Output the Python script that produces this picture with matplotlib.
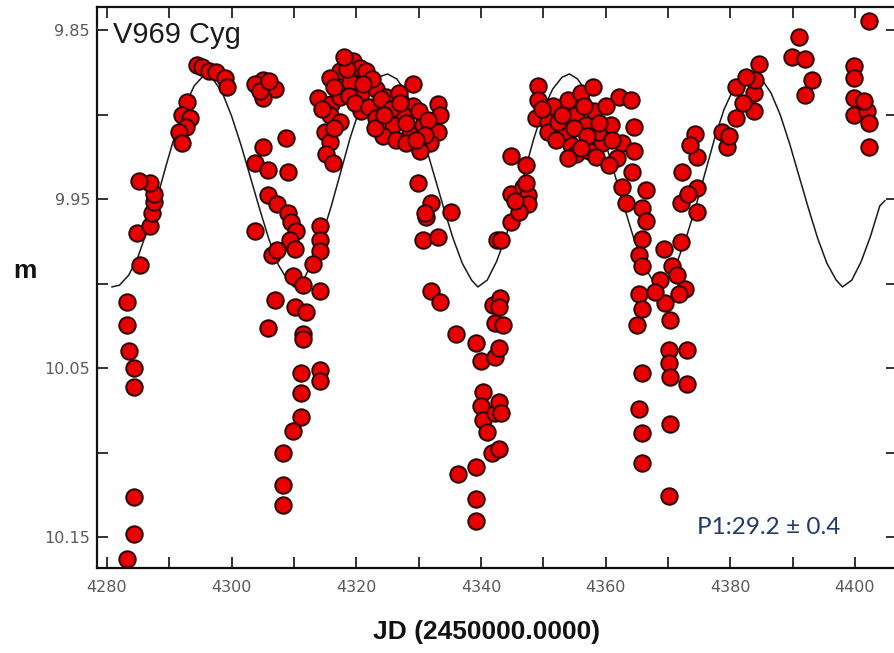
import matplotlib
matplotlib.use("Agg")
import matplotlib.pyplot as plt
from matplotlib.ticker import MultipleLocator

# ---- observations (JD - 2450000, magnitude) ----
obs_jd = [
    4283.2, 4283.2, 4283.5, 4284.3, 4284.3, 4284.3, 4284.3, 4283.2,
    4285.3, 4284.8, 4286.9, 4287.2, 4287.5, 4287.5, 4286.9, 4285.1,
    4292.8, 4292.0, 4293.4, 4292.6, 4291.5, 4292.0,
    4294.4, 4295.2, 4296.3, 4297.5, 4299.0, 4299.2,
    4305.1, 4306.9, 4305.1, 4303.8, 4304.5, 4306.0,
    4308.8, 4305.1, 4303.7, 4305.9, 4309.1,
    4305.9, 4307.2, 4309.1, 4309.6, 4310.4, 4303.7, 4309.4, 4310.2, 4306.4, 4307.2,
    4314.2, 4314.2, 4314.2, 4313.1,
    4309.9, 4311.5, 4314.2, 4306.9, 4310.2, 4312.0, 4305.9, 4311.5, 4311.5,
    4311.2, 4314.2, 4314.2, 4311.2, 4311.2, 4309.9, 4308.3, 4308.3, 4308.3,
    4317.4, 4319.5, 4320.6, 4319.0, 4315.8, 4313.9, 4316.0, 4317.4, 4315.8, 4317.4,
    4315.0, 4315.8, 4315.2, 4316.3, 4320.8, 4320.8,
    4318.5, 4316.5, 4318.8, 4314.5, 4316.5, 4319.8,
    4321.6, 4323.2, 4322.1, 4324.8, 4326.9, 4329.1, 4329.1, 4327.5, 4325.9, 4324.3,
    4326.4, 4328.6, 4330.7, 4333.1, 4333.4, 4333.1, 4331.8, 4330.2, 4328.0, 4323.2,
    4322.5, 4324.0, 4325.5, 4327.0, 4328.0, 4330.0, 4331.5, 4323.0, 4321.0, 4318.0,
    4331.0, 4329.5, 4324.5,
    4329.9, 4332.0, 4331.2, 4335.2, 4330.7, 4333.1, 4332.0, 4333.4, 4331.0,
    4336.0, 4339.2, 4340.0, 4342.2, 4341.9, 4342.2, 4342.5, 4343.0, 4342.9, 4343.5,
    4340.3, 4340.0, 4340.3, 4342.2, 4341.7, 4339.2, 4336.3, 4339.2, 4339.2, 4342.9,
    4342.9, 4343.2, 4342.9, 4341.0,
    4343.2, 4344.8, 4344.8, 4346.7, 4347.5, 4347.5, 4347.2, 4344.8, 4347.2, 4346.1, 4345.5,
    4349.1, 4349.1, 4348.8, 4350.7, 4350.8, 4353.9, 4355.2, 4356.0, 4357.9, 4354.4,
    4355.2, 4358.2, 4356.9, 4359.5, 4362.2, 4357.4, 4360.9, 4362.7, 4353.1, 4352.3,
    4358.8, 4361.9, 4362.7, 4363.3,
    4351.5, 4353.0, 4355.0, 4356.5, 4357.0, 4359.0, 4360.0, 4361.0, 4358.5, 4352.0,
    4354.0, 4356.0, 4360.5, 4349.8,
    4364.0, 4364.5, 4364.5, 4364.2, 4366.4, 4365.8, 4366.4, 4365.8, 4365.4, 4365.8,
    4365.4, 4365.8, 4365.1, 4365.8, 4365.3, 4365.8, 4365.8,
    4369.4, 4372.1, 4370.7, 4368.8, 4372.8, 4371.7, 4369.6, 4370.4, 4370.1, 4373.1,
    4370.1, 4370.4, 4373.1, 4370.4, 4370.1, 4371.5, 4368.0,
    4374.4, 4374.6, 4372.2, 4374.6, 4372.1, 4374.6, 4373.2, 4373.5,
    4379.5, 4378.7, 4380.9, 4380.9, 4383.8, 4383.8, 4384.6, 4384.0, 4382.0, 4382.5, 4379.8,
    4391.0, 4389.9, 4392.0, 4393.1, 4392.0,
    4402.2, 4399.8, 4399.8, 4399.8, 4399.8, 4401.9, 4402.2, 4402.2, 4401.5,
]
obs_mag = [
    10.011, 10.0245, 10.040, 10.050, 10.061, 10.126, 10.148, 10.163,
    9.989, 9.970, 9.966, 9.9585, 9.952, 9.947, 9.9404, 9.9394,
    9.8926, 9.900, 9.902, 9.9075, 9.9106, 9.917,
    9.871, 9.872, 9.8745, 9.875, 9.8787, 9.884,
    9.8798, 9.8851, 9.8904, 9.8819, 9.886, 9.880,
    9.9138, 9.9192, 9.9287, 9.933, 9.934,
    9.9479, 9.9532, 9.9585, 9.9638, 9.9692, 9.9692, 9.9745, 9.9798, 9.983, 9.980,
    9.966, 9.9745, 9.981, 9.9883,
    9.9957, 10.001, 10.0043, 10.0096, 10.0139, 10.017, 10.0266, 10.0298, 10.033,
    10.0532, 10.0511, 10.0575, 10.0649, 10.0787, 10.0873, 10.100, 10.1192, 10.1309,
    9.8745, 9.8681, 9.8723, 9.8809, 9.8787, 9.8904, 9.8936, 9.8894, 9.900, 9.9043,
    9.9106, 9.916, 9.9234, 9.9287, 9.8872, 9.8979,
    9.873, 9.884, 9.889, 9.897, 9.908, 9.893,
    9.8745, 9.8851, 9.8958, 9.8894, 9.887, 9.8819, 9.8947, 9.900, 9.9064, 9.9128,
    9.9149, 9.9117, 9.9064, 9.8936, 9.900, 9.9106, 9.917, 9.9213, 9.917, 9.9021,
    9.879, 9.891, 9.897, 9.893, 9.905, 9.898, 9.903, 9.908, 9.882, 9.866,
    9.912, 9.915, 9.900,
    9.9404, 9.9521, 9.9607, 9.9575, 9.9745, 9.9724, 10.0043, 10.0107, 9.958,
    10.0298, 10.0351, 10.0458, 10.0436, 10.0128, 10.0234, 9.9745, 10.0085, 10.0139, 10.0245,
    10.0639, 10.0724, 10.0809, 10.0766, 10.100, 10.1085, 10.1128, 10.1277, 10.1405, 10.0383,
    10.0702, 10.0766, 10.0979, 10.088,
    9.9745, 9.9638, 9.9468, 9.9426, 9.9479, 9.9532, 9.9404, 9.9245, 9.9298, 9.9575, 9.951,
    9.883, 9.8915, 9.9021, 9.9043, 9.9106, 9.8915, 9.900, 9.8872, 9.884, 9.918,
    9.9234, 9.8979, 9.9064, 9.917, 9.8894, 9.9213, 9.9064, 9.917, 9.9106, 9.9043,
    9.9106, 9.9255, 9.9426, 9.9521,
    9.895, 9.900, 9.908, 9.895, 9.913, 9.905, 9.895, 9.915, 9.925, 9.915,
    9.926, 9.920, 9.930, 9.897,
    9.8915, 9.9075, 9.9213, 9.934, 9.9447, 9.9553, 9.9628, 9.9734, 9.983, 9.9894,
    10.0064, 10.0149, 10.0245, 10.0532, 10.0745, 10.0883, 10.1064,
    9.9798, 9.9756, 9.9894, 9.9979, 10.0032, 10.0064, 10.0117, 10.0213, 10.0394, 10.0394,
    10.0468, 10.0553, 10.0596, 10.083, 10.1256, 9.995, 10.005,
    9.9117, 9.925, 9.934, 9.9436, 9.9521, 9.9575, 9.9468, 9.918,
    9.9192, 9.9106, 9.9021, 9.884, 9.8872, 9.8979, 9.8702, 9.8798, 9.893, 9.878, 9.913,
    9.8543, 9.866, 9.867, 9.8798, 9.8883,
    9.8447, 9.8713, 9.8787, 9.8904, 9.900, 9.8979, 9.9053, 9.9192, 9.892,
]

# ---- fitted light curve ----
fit_jd = [
    4280.8, 4282.0, 4283.5, 4285.0, 4286.5, 4288.0, 4289.5, 4291.0, 4292.5, 4294.0,
    4295.5, 4297.0, 4298.5, 4300.0, 4301.5, 4303.0, 4304.5, 4306.0, 4307.5, 4309.0,
    4310.0, 4311.5, 4313.0, 4314.5, 4316.0, 4317.5, 4319.0, 4320.5, 4322.0, 4323.5,
    4325.0, 4326.5, 4328.0, 4329.5, 4331.0, 4332.5, 4334.0, 4335.5, 4337.0, 4338.5,
    4339.5, 4341.0, 4342.5, 4344.0, 4345.5, 4347.0, 4348.5, 4350.0, 4351.5, 4353.0,
    4354.2, 4355.5, 4357.0, 4358.5, 4360.0, 4361.5, 4363.0, 4364.5, 4366.0, 4367.5,
    4368.7, 4370.0, 4371.5, 4373.0, 4374.5, 4376.0, 4377.5, 4379.0, 4380.5, 4382.0,
    4383.5, 4385.0, 4386.5, 4388.0, 4389.5, 4391.0, 4392.5, 4394.0, 4395.5, 4397.0,
    4398.0, 4399.5, 4401.0, 4402.5, 4404.0, 4404.8,
]
fit_mag = [
    10.002, 10.001, 9.995, 9.984, 9.968, 9.950, 9.930, 9.911, 9.895, 9.883,
    9.877, 9.879, 9.887, 9.901, 9.918, 9.937, 9.956, 9.974, 9.989, 9.998,
    10.002, 9.998, 9.987, 9.972, 9.954, 9.934, 9.914, 9.897, 9.885, 9.878,
    9.876, 9.879, 9.887, 9.900, 9.917, 9.936, 9.955, 9.973, 9.988, 9.998,
    10.002, 9.998, 9.987, 9.972, 9.954, 9.934, 9.914, 9.897, 9.885, 9.878,
    9.876, 9.879, 9.887, 9.900, 9.917, 9.936, 9.955, 9.973, 9.988, 9.998,
    10.002, 9.998, 9.987, 9.972, 9.954, 9.934, 9.914, 9.897, 9.885, 9.878,
    9.876, 9.879, 9.887, 9.900, 9.917, 9.936, 9.955, 9.973, 9.988, 9.998,
    10.002, 9.998, 9.987, 9.972, 9.954, 9.951,
]

x_major = [4280, 4300, 4320, 4340, 4360, 4380, 4400]
x_major_labels = ["4280", "4300", "4320", "4340", "4360", "4380", "4400"]
y_major = [9.85, 9.95, 10.05, 10.15]
y_major_labels = ["9.85", "9.95", "10.05", "10.15"]

W, H = 895, 653
fig = plt.figure(figsize=(W / 100, H / 100), dpi=100)
ax_l, ax_r, ax_t, ax_b = 97, 897, 7, 568
ax = fig.add_axes([ax_l / W, 1 - ax_b / H, (ax_r - ax_l) / W, (ax_b - ax_t) / H])

ax.plot(fit_jd, fit_mag, color="#1a1a1a", lw=1.1, zorder=1)
ax.scatter(obs_jd, obs_mag, s=140, facecolor="#e80000", edgecolor="#2a0000",
           linewidths=1.4, zorder=2)

ax.set_xlim(4278.4, 4406.75)
ax.set_ylim(10.1683, 9.8364)

ax.set_xticks(x_major)
ax.set_xticklabels(x_major_labels)
ax.xaxis.set_minor_locator(MultipleLocator(10))
ax.set_yticks(y_major)
ax.set_yticklabels(y_major_labels)
ax.yaxis.set_minor_locator(MultipleLocator(0.05))

for which in ("major", "minor"):
    ax.tick_params(axis="both", which=which, direction="in", length=8, width=1.2,
                   top=True, right=True, color="#111111")
ax.tick_params(axis="both", which="major", labelsize=11.5, labelcolor="#5a5a5a", pad=5)
ax.tick_params(axis="x", which="major", pad=9)
for lab in ax.get_xticklabels() + ax.get_yticklabels():
    lab.set_family("DejaVu Sans")

for sp in ax.spines.values():
    sp.set_linewidth(1.6)
    sp.set_color("#111111")

fig.text(25 / W, 1 - 271 / H, "m", fontsize=19, fontweight="bold",
         family="Liberation Sans", ha="center", va="center", color="#111111")
fig.text(487 / W, 1 - 632 / H, "JD (2450000.0000)", fontsize=19, fontweight="bold",
         family="Liberation Sans", ha="center", va="center", color="#111111")

ax.text(0.02, 0.936, "V969 Cyg", transform=ax.transAxes, fontsize=21,
        family="Liberation Sans", color="#1a1a1a", ha="left", va="baseline")
ax.text(0.75, 0.061, "P1:29.2 \u00b1 0.4", transform=ax.transAxes, fontsize=17.5,
        family="Lato", color="#203a6a", ha="left", va="baseline")

fig.savefig("out.png", dpi=100)
